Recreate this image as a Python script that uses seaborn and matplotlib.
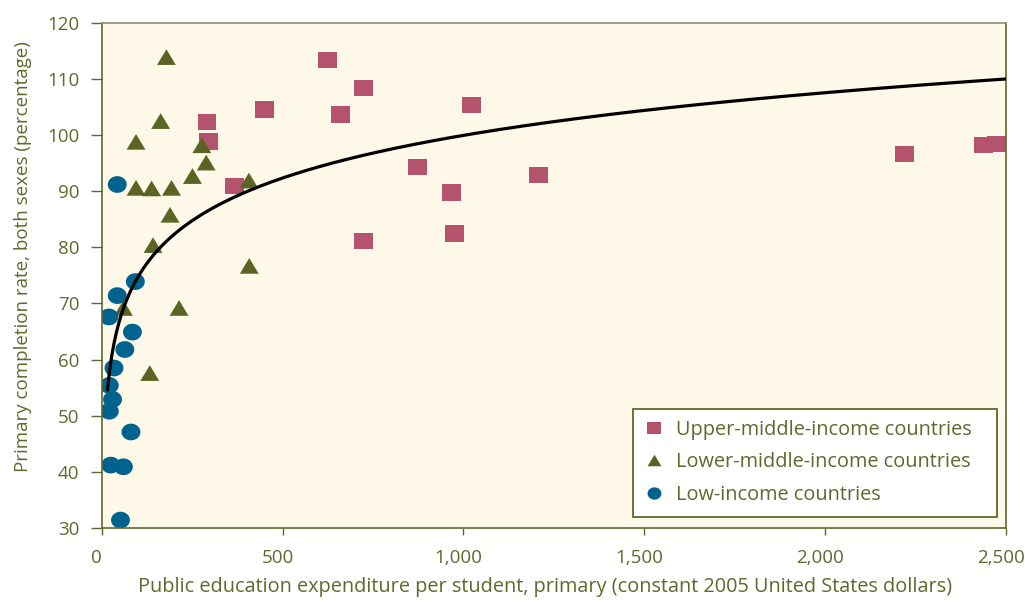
import numpy as np
import pandas as pd
import matplotlib
matplotlib.use("Agg")
import matplotlib.pyplot as plt
import matplotlib.transforms as mtransforms
from matplotlib.patches import Rectangle
from matplotlib.path import Path
from matplotlib.ticker import FuncFormatter
import seaborn as sns

# Data
upper_x = [625, 660, 725, 451, 291, 296, 368, 725, 874, 968, 976, 1023, 1208, 2219, 2437, 2473]
upper_y = [113.4, 103.7, 108.4, 104.6, 102.3, 98.9, 90.9, 81.1, 94.3, 89.8, 82.5, 105.4, 92.9, 96.6, 98.2, 98.4]

lower_x = [179, 163, 95, 277, 289, 251, 407, 95, 138, 193, 189, 142, 408, 60, 214, 133]
lower_y = [113.9, 102.5, 98.8, 98.2, 95.1, 92.7, 91.9, 90.6, 90.5, 90.6, 85.8, 80.4, 76.7, 69.2, 69.2, 57.6]

low_x = [93, 43, 20, 85, 64, 34, 21, 30, 21, 81, 25, 60, 52, 43]
low_y = [73.9, 71.4, 67.6, 64.9, 61.8, 58.5, 55.4, 52.9, 50.8, 47.1, 41.2, 40.9, 31.4, 91.2]

groups = ["Upper-middle-income countries", "Lower-middle-income countries", "Low-income countries"]

df = pd.DataFrame({
    "x": upper_x + lower_x + low_x,
    "y": upper_y + lower_y + low_y,
    "group": [groups[0]] * len(upper_x) + [groups[1]] * len(lower_x) + [groups[2]] * len(low_x),
})

# logarithmic trend line fitted to all countries
b, a = np.polyfit(np.log(df["x"]), df["y"], 1)
trend_x = np.linspace(16, 2500, 400)
trend_y = a + b * np.log(trend_x)

olive = "#5d6a2c"
colors = {groups[0]: "#b5536f", groups[1]: "#5a6424", groups[2]: "#00628e"}

# slightly wide markers like in the original
rect = Path([(-1.15, -1), (1.15, -1), (1.15, 1), (-1.15, 1), (-1.15, -1)], closed=True)
tri = Path([(-1, -0.83), (1, -0.83), (0, 0.83), (-1, -0.83)], closed=True)
t = np.linspace(0, 2 * np.pi, 60)
ell = Path(np.column_stack([1.13 * np.cos(t), np.sin(t)]), closed=True)
markers = {groups[0]: rect, groups[1]: tri, groups[2]: ell}

sns.set_theme(style="ticks")
plt.rcParams["font.family"] = ["Open Sans", "DejaVu Sans"]

fig = plt.figure(figsize=(10.25, 6.02), dpi=100)
ax = fig.add_axes([0.0992, 0.123, 0.8823, 0.839])
ax.set_facecolor("#fdf8e7")

ax.plot(trend_x, trend_y, color="black", lw=2.3, zorder=3)
sns.scatterplot(data=df, x="x", y="y", hue="group", style="group", hue_order=groups,
                style_order=groups, palette=colors, markers=markers, s=185,
                linewidth=0, ax=ax, zorder=2, legend=False)

ax.set_xlim(0, 2500)
ax.set_ylim(30, 120)
ax.set_xticks([0, 500, 1000, 1500, 2000, 2500])
ax.set_yticks(range(30, 121, 10))
ax.xaxis.set_major_formatter(FuncFormatter(lambda v, p: f"{int(v):,}"))
ax.tick_params(axis="y", length=8, width=1, color=olive, labelcolor=olive, labelsize=13.5, pad=8)
ax.tick_params(axis="x", length=5, width=1, color=olive, labelcolor=olive, labelsize=13.5, pad=10)
# x labels sit a little left of their ticks in the original
shift = mtransforms.ScaledTranslation(-5 / 100, 0, fig.dpi_scale_trans)
for lab in ax.get_xticklabels():
    lab.set_transform(lab.get_transform() + shift)
for s in ax.spines.values():
    s.set_color(olive)
    s.set_linewidth(1.2)
ax.spines["top"].set_color("#8c9070")

ax.set_xlabel("Public education expenditure per student, primary (constant 2005 United States dollars)",
              color=olive, fontsize=14.3)
ax.xaxis.set_label_coords(0.49, -0.097)
ax.set_ylabel("Primary completion rate, both sexes (percentage)", color=olive, fontsize=13.5)
ax.yaxis.set_label_coords(-0.077, 0.537)

# legend box drawn separately so its padding matches the original
box = Rectangle((0.5875, 0.0218), 0.4025, 0.2138, transform=ax.transAxes, facecolor="white",
                edgecolor=olive, linewidth=1.3, zorder=4)
ax.add_patch(box)
handles = [plt.Line2D([], [], ls="", marker=markers[g], color=colors[g], markersize=10, mew=0) for g in groups]
leg = ax.legend(handles, groups, loc="upper left", bbox_to_anchor=(0.5875, 0.2356), borderaxespad=0,
                frameon=False, fontsize=14.3, labelcolor=olive, handlelength=1.0,
                handletextpad=0.6, labelspacing=0.62, borderpad=0.55)
leg.set_zorder(5)

fig.savefig("out.png", dpi=100)
